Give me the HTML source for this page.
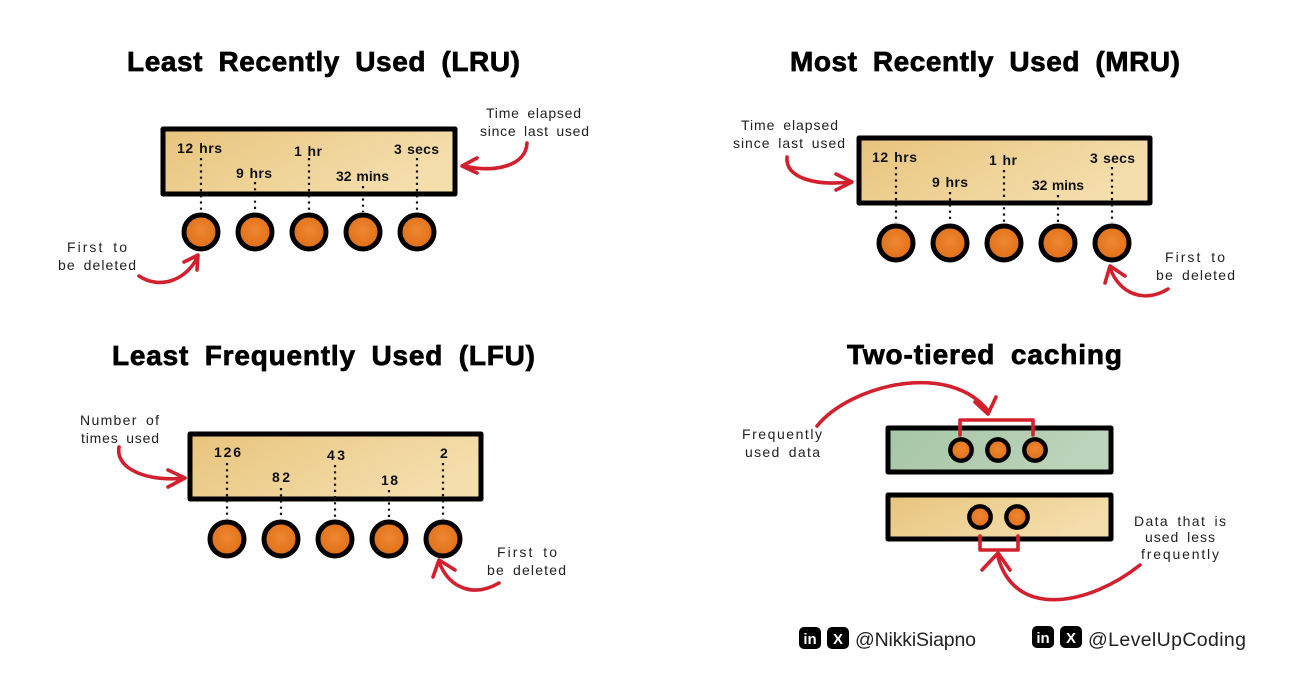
<!DOCTYPE html>
<html><head><meta charset="utf-8"><style>
html,body{margin:0;padding:0;background:#fff}
svg{display:block}
.t{font:bold 28px "Liberation Sans",sans-serif;fill:#000;stroke:#000;stroke-width:.7;word-spacing:7px}
.b{font:bold 14px "Liberation Sans",sans-serif;fill:#111;word-spacing:1px}
.n{font:14px "Liberation Sans",sans-serif;fill:#222;word-spacing:3px}
.f{font:19.5px "Liberation Sans",sans-serif;fill:#222}
.box{stroke:#000;stroke-width:5;stroke-linejoin:round}
.dot{stroke:#111;stroke-width:2.2;stroke-dasharray:2.2 4;fill:none}
.red{stroke:#d3202e;stroke-width:3.6;fill:none;stroke-linecap:round;stroke-linejoin:round}
.c{fill:url(#o);stroke:#000;stroke-width:5}
.s{fill:url(#o);stroke:#000;stroke-width:4.4}
</style></head><body>
<svg width="1292" height="678" viewBox="0 0 1292 678" xmlns="http://www.w3.org/2000/svg">
<defs>
<linearGradient id="y" x1="0" y1="0" x2="1" y2="0.4"><stop offset="0" stop-color="#e8c47c"/><stop offset="1" stop-color="#f4deac"/></linearGradient>
<linearGradient id="g" x1="0" y1="0" x2="1" y2="0.2"><stop offset="0" stop-color="#a6c5a6"/><stop offset="1" stop-color="#bcd4bc"/></linearGradient>
<radialGradient id="o" cx="0.5" cy="0.45" r="0.6"><stop offset="0" stop-color="#ee8733"/><stop offset="1" stop-color="#de6c12"/></radialGradient>
</defs>
<rect width="1292" height="678" fill="#fff"/>

<text class="t" x="127" y="71" textLength="393" lengthAdjust="spacing">Least Recently Used (LRU)</text>
<text class="t" x="790" y="71" textLength="390" lengthAdjust="spacing">Most Recently Used (MRU)</text>
<text class="t" x="112" y="365" textLength="423" lengthAdjust="spacing">Least Frequently Used (LFU)</text>
<text class="t" x="847" y="364" textLength="275" lengthAdjust="spacing">Two-tiered caching</text>

<!-- LRU -->
<rect class="box" x="163" y="129" width="292" height="65" fill="url(#y)"/>
<path class="dot" d="M201 158V212M255 182V212M309 158V212M363 186V212M417 158V212"/>
<circle class="c" cx="201" cy="232" r="17"/><circle class="c" cx="255" cy="232" r="17"/><circle class="c" cx="309" cy="232" r="17"/><circle class="c" cx="363" cy="232" r="17"/><circle class="c" cx="417" cy="232" r="17"/>
<text class="b" x="177" y="153" textLength="45" lengthAdjust="spacing">12 hrs</text>
<text class="b" x="236" y="178" textLength="36" lengthAdjust="spacing">9 hrs</text>
<text class="b" x="294" y="156" textLength="28" lengthAdjust="spacing">1 hr</text>
<text class="b" x="336" y="181" textLength="53" lengthAdjust="spacing">32 mins</text>
<text class="b" x="394" y="154" textLength="45" lengthAdjust="spacing">3 secs</text>
<text class="n" x="486" y="118" textLength="95" lengthAdjust="spacing">Time elapsed</text>
<text class="n" x="480" y="136" textLength="109" lengthAdjust="spacing">since last used</text>
<text class="n" x="67" y="252" textLength="60" lengthAdjust="spacing">First to</text>
<text class="n" x="58" y="270" textLength="78" lengthAdjust="spacing">be deleted</text>
<path class="red" d="M527 143C526 166 495 173 464 166M477 158L462 166L477 173"/>
<path class="red" d="M139 276C160 290 186 280 197 258M184 262L198 255L197 270"/>

<!-- MRU -->
<rect class="box" x="859" y="138" width="291" height="65" fill="url(#y)"/>
<path class="dot" d="M896 167V223M950 192V223M1004 170V223M1058 195V223M1112 167V223"/>
<circle class="c" cx="896" cy="243" r="17"/><circle class="c" cx="950" cy="243" r="17"/><circle class="c" cx="1004" cy="243" r="17"/><circle class="c" cx="1058" cy="243" r="17"/><circle class="c" cx="1112" cy="243" r="17"/>
<text class="b" x="872" y="162" textLength="45" lengthAdjust="spacing">12 hrs</text>
<text class="b" x="932" y="187" textLength="36" lengthAdjust="spacing">9 hrs</text>
<text class="b" x="989" y="165" textLength="28" lengthAdjust="spacing">1 hr</text>
<text class="b" x="1032" y="190" textLength="52" lengthAdjust="spacing">32 mins</text>
<text class="b" x="1090" y="163" textLength="45" lengthAdjust="spacing">3 secs</text>
<text class="n" x="741" y="130" textLength="97" lengthAdjust="spacing">Time elapsed</text>
<text class="n" x="733" y="148" textLength="112" lengthAdjust="spacing">since last used</text>
<text class="n" x="1165" y="262" textLength="60" lengthAdjust="spacing">First to</text>
<text class="n" x="1156" y="280" textLength="79" lengthAdjust="spacing">be deleted</text>
<path class="red" d="M787 157C785 178 815 186 850 182M836 174L852 182L836 190"/>
<path class="red" d="M1168 289C1145 303 1120 295 1110 268M1105 283L1110 266L1125 276"/>

<!-- LFU -->
<rect class="box" x="190" y="434" width="291" height="65" fill="url(#y)"/>
<path class="dot" d="M227 463V519M281 488V519M335 465V519M389 490V519M443 463V519"/>
<circle class="c" cx="227" cy="539" r="17"/><circle class="c" cx="281" cy="539" r="17"/><circle class="c" cx="335" cy="539" r="17"/><circle class="c" cx="389" cy="539" r="17"/><circle class="c" cx="443" cy="539" r="17"/>
<text class="b" x="214" y="457" textLength="27" lengthAdjust="spacing">126</text>
<text class="b" x="272" y="482" textLength="18" lengthAdjust="spacing">82</text>
<text class="b" x="327" y="460" textLength="18" lengthAdjust="spacing">43</text>
<text class="b" x="381" y="485" textLength="17" lengthAdjust="spacing">18</text>
<text class="b" x="440" y="458">2</text>
<text class="n" x="80" y="425" textLength="79" lengthAdjust="spacing">Number of</text>
<text class="n" x="81" y="443" textLength="78" lengthAdjust="spacing">times used</text>
<text class="n" x="497" y="557" textLength="60" lengthAdjust="spacing">First to</text>
<text class="n" x="487" y="575" textLength="79" lengthAdjust="spacing">be deleted</text>
<path class="red" d="M119 447C115 470 150 482 183 478M168 470L185 478L168 487"/>
<path class="red" d="M499 583C475 597 450 590 439 562M433 577L439 560L455 570"/>

<!-- Two-tiered -->
<rect class="box" x="888" y="428" width="223" height="44" fill="url(#g)"/>
<rect class="box" x="888" y="495" width="223" height="44" fill="url(#y)"/>
<path class="red" d="M960 435V420H1033V435"/>
<path class="red" d="M980 536V550H1018V536"/>
<circle class="s" cx="961" cy="450" r="10.7"/><circle class="s" cx="998" cy="450" r="10.7"/><circle class="s" cx="1035" cy="450" r="10.7"/>
<circle class="s" cx="980" cy="517" r="10.7"/><circle class="s" cx="1017" cy="517" r="10.7"/>
<path class="red" d="M817 426C850 385 950 360 989 412M975 402L988 414L996 397"/>
<path class="red" d="M1140 565C1090 605 1015 620 998 557M982 570L998 553L1010 570"/>
<text class="n" x="742" y="439" textLength="80" lengthAdjust="spacing">Frequently</text>
<text class="n" x="745" y="457" textLength="75" lengthAdjust="spacing">used data</text>
<text class="n" x="1134" y="526" textLength="92" lengthAdjust="spacing">Data that is</text>
<text class="n" x="1145" y="542" textLength="70" lengthAdjust="spacing">used less</text>
<text class="n" x="1141" y="559" textLength="78" lengthAdjust="spacing">frequently</text>

<!-- Footer -->
<rect x="799" y="627" width="22" height="22" rx="5" fill="#000"/>
<text x="810" y="644" text-anchor="middle" style="font:bold 15px 'Liberation Sans',sans-serif" fill="#fff">in</text>
<rect x="827" y="627" width="22" height="22" rx="5" fill="#000"/>
<text x="838" y="644" text-anchor="middle" style="font:bold 15px 'Liberation Sans',sans-serif" fill="#fff">X</text>
<text class="f" x="855" y="646" textLength="121" lengthAdjust="spacing">@NikkiSiapno</text>
<rect x="1032" y="626" width="22" height="22" rx="5" fill="#000"/>
<text x="1043" y="643" text-anchor="middle" style="font:bold 15px 'Liberation Sans',sans-serif" fill="#fff">in</text>
<rect x="1060" y="626" width="22" height="22" rx="5" fill="#000"/>
<text x="1071" y="643" text-anchor="middle" style="font:bold 15px 'Liberation Sans',sans-serif" fill="#fff">X</text>
<text class="f" x="1088" y="646" textLength="158" lengthAdjust="spacing">@LevelUpCoding</text>
</svg>
</body></html>
